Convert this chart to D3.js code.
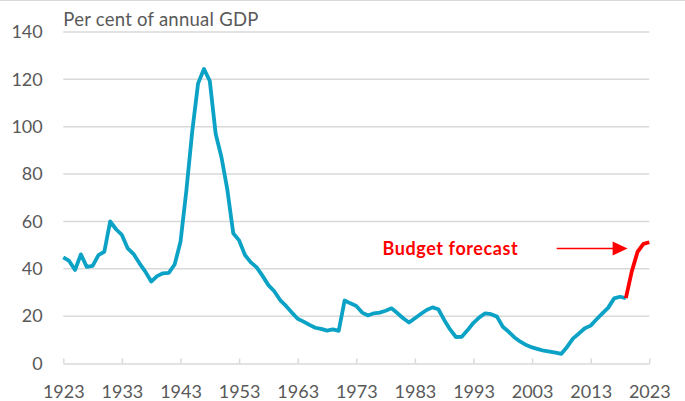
<!DOCTYPE html>
<html>
<head>
<meta charset="utf-8">
<script src="https://cdn.jsdelivr.net/npm/d3@7"></script>
<style>
  html, body { margin: 0; padding: 0; background: #fff; }
  svg { display: block; }
  text { font-family: Lato, "Open Sans", sans-serif; }
</style>
</head>
<body>
<svg id="chart" width="685" height="401"></svg>
<script>
// Government debt, per cent of annual GDP, 1923 to 2019 (outturn)
const actualYears = d3.range(1923, 2020);
const actualValues = [
  44.8, 43.3, 39.5, 46.1, 40.8, 41.2, 45.8, 47.2, 60.0, 56.7,
  54.3, 48.6, 46.2, 42.3, 38.8, 34.6, 36.9, 38.1, 38.3, 41.8,
  51.4, 73.0, 98.0, 118.3, 124.4, 119.3, 97.0, 87.0, 73.3, 55.0,
  52.0, 45.8, 42.7, 40.6, 37.0, 33.1, 30.5, 26.8, 24.3, 21.5,
  18.9, 17.7, 16.3, 15.1, 14.6, 13.9, 14.4, 13.8, 26.6, 25.4,
  24.3, 21.5, 20.3, 21.2, 21.5, 22.3, 23.3, 21.3, 19.1, 17.3,
  19.1, 20.9, 22.6, 23.7, 22.9, 18.4, 14.4, 11.2, 11.3, 14.1,
  17.2, 19.5, 21.2, 20.8, 19.8, 15.5, 13.4, 11.0, 9.2, 7.8,
  6.8, 6.1, 5.4, 5.0, 4.6, 4.1, 7.1, 10.6, 12.7, 14.9,
  16.0, 18.7, 21.2, 23.6, 27.5, 28.2, 27.6
];

// Budget forecast, 2019 to 2023
const forecastYears = [2019, 2020, 2021, 2022, 2023];
const forecastValues = [27.6, 38.8, 47.2, 50.5, 51.2];

// Axis ticks
const xTickYears = d3.range(1923, 2024, 10);
const yTickValues = d3.range(0, 141, 20);

const axisTitle = "Per cent of annual GDP";
const forecastLabel = "Budget forecast";

const svg = d3.select("#chart");

const x = d3.scaleLinear().domain([1923, 2023]).range([63.3, 649.3]);
const y = d3.scaleLinear().domain([0, 140]).range([363.5, 32]);

const gridColor = "#d9d9d9";
const textColor = "#595959";

// thin rule along the top edge
svg.append("line")
  .attr("x1", 0).attr("x2", 685)
  .attr("y1", 0.5).attr("y2", 0.5)
  .attr("stroke", gridColor).attr("stroke-width", 1);

// horizontal gridlines
svg.append("g")
  .selectAll("line")
  .data(yTickValues.filter(v => v > 0))
  .join("line")
  .attr("x1", x.range()[0]).attr("x2", x.range()[1])
  .attr("y1", d => y(d)).attr("y2", d => y(d))
  .attr("stroke", gridColor)
  .attr("stroke-width", 1.5);

// x axis with inside tick marks
const xAxis = svg.append("g")
  .attr("transform", `translate(0,${y(0)})`)
  .call(d3.axisBottom(x)
    .tickValues(xTickYears)
    .tickFormat(d3.format("d"))
    .tickSizeInner(-5)
    .tickSizeOuter(0)
    .tickPadding(21.5));
xAxis.select(".domain").attr("stroke", gridColor).attr("stroke-width", 1.5);
xAxis.selectAll(".tick line").attr("stroke", gridColor).attr("stroke-width", 1.5);
xAxis.selectAll(".tick text")
  .attr("fill", textColor)
  .style("font-size", "18px");

// y axis labels only
const yAxis = svg.append("g")
  .attr("transform", `translate(${x.range()[0]},0)`)
  .call(d3.axisLeft(y)
    .tickValues(yTickValues)
    .tickSize(0)
    .tickPadding(20.6));
yAxis.select(".domain").remove();
yAxis.selectAll(".tick text")
  .attr("fill", textColor)
  .style("font-size", "18px");

// axis title
svg.append("text")
  .attr("x", x.range()[0])
  .attr("y", 26)
  .attr("fill", textColor)
  .style("font-size", "18.5px")
  .style("letter-spacing", "0.25px")
  .text(axisTitle);

const line = d3.line()
  .x(d => x(d[0]))
  .y(d => y(d[1]));

// outturn line
svg.append("path")
  .datum(d3.zip(actualYears, actualValues))
  .attr("d", line)
  .attr("fill", "none")
  .attr("stroke", "#0ba2c6")
  .attr("stroke-width", 3.8)
  .attr("stroke-linejoin", "round");

// forecast line
svg.append("path")
  .datum(d3.zip(forecastYears, forecastValues))
  .attr("d", line)
  .attr("fill", "none")
  .attr("stroke", "#ff0000")
  .attr("stroke-width", 3.8)
  .attr("stroke-linejoin", "round");

// annotation: label and arrow pointing at the forecast
const labelYear = 1977.45, labelValue = 46.0;
const arrowFrom = [2007.2, 48.6], arrowTo = [2019.3, 48.6];

svg.append("text")
  .attr("x", x(labelYear))
  .attr("y", y(labelValue))
  .attr("fill", "#ff0000")
  .style("font-size", "18px")
  .style("font-weight", "bold")
  .style("letter-spacing", "0.6px")
  .text(forecastLabel);

const ax0 = x(arrowFrom[0]), ay = y(arrowFrom[1]), ax1 = x(arrowTo[0]);
svg.append("line")
  .attr("x1", ax0).attr("x2", ax1 - 14)
  .attr("y1", ay).attr("y2", ay)
  .attr("stroke", "#ff0000")
  .attr("stroke-width", 1.5);
svg.append("path")
  .attr("d", `M${ax1},${ay} L${ax1 - 15},${ay - 7} L${ax1 - 15},${ay + 7} Z`)
  .attr("fill", "#ff0000");
</script>
</body>
</html>
